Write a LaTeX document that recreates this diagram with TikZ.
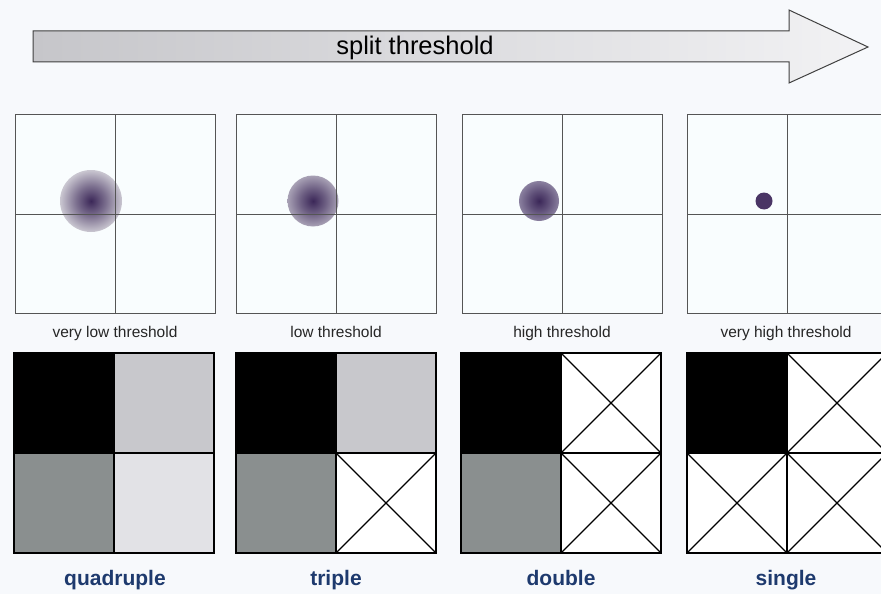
\documentclass[tikz,border=0pt]{standalone}
\usepackage{fontspec}
\setmainfont{Liberation Sans}
\definecolor{bg}{HTML}{F7F9FC}
\definecolor{panelbg}{HTML}{F9FDFE}
\definecolor{framec}{HTML}{555555}
\definecolor{lblue}{HTML}{1E3A6E}
\definecolor{blobin}{HTML}{3B2758}
\definecolor{blobouta}{HTML}{CAC7D1}
\definecolor{bloboutb}{HTML}{A8A1B5}
\definecolor{bloboutc}{HTML}{8A809F}
\colorlet{blobmida}{blobin!55!blobouta}
\colorlet{blobmidb}{blobin!55!bloboutb}
\colorlet{blobmidc}{blobin!55!bloboutc}
\definecolor{dotc}{HTML}{4A3565}
\definecolor{lgray}{HTML}{C8C8CC}
\definecolor{mgray}{HTML}{8A8F8F}
\definecolor{xgray}{HTML}{E2E2E6}
\definecolor{arrowL}{HTML}{C6C6CA}
\definecolor{arrowR}{HTML}{F2F2F4}
\pgfdeclareradialshading{bloba}{\pgfpoint{0bp}{0bp}}{color(0bp)=(blobin); color(12bp)=(blobmida); color(25bp)=(blobouta); color(50bp)=(blobouta)}
\pgfdeclareradialshading{blobb}{\pgfpoint{0bp}{0bp}}{color(0bp)=(blobin); color(12bp)=(blobmidb); color(25bp)=(bloboutb); color(50bp)=(bloboutb)}
\pgfdeclareradialshading{blobc}{\pgfpoint{0bp}{0bp}}{color(0bp)=(blobin); color(12bp)=(blobmidc); color(25bp)=(bloboutc); color(50bp)=(bloboutc)}
\tikzset{
  panelframe/.style={draw=framec, line width=0.9pt},
  gridline/.style={draw=framec, line width=0.9pt},
  cellframe/.style={draw=black, line width=1.4pt},
  xline/.style={draw=black, line width=1.3pt},
  toplabel/.style={font=\fontsize{15.5}{18}\selectfont, text=black!85, inner sep=0pt, anchor=base},
  botlabel/.style={font=\fontsize{21}{24}\selectfont\bfseries, text=lblue, inner sep=0pt, anchor=base},
}
\newcommand{\xcell}[2]{%
  \fill[white] (#1,#2) rectangle ++(100,100);
  \draw[xline] (#1,#2) -- ++(100,100) (#1+100,#2) -- ++(-100,100);
}
\begin{document}
\begin{tikzpicture}[x=1pt,y=-1pt]
\fill[bg] (0,0) rectangle (881,594);
\useasboundingbox (0,0) rectangle (881,594);
% arrow
\shade[left color=arrowL, right color=arrowR, draw=black!75, line width=1pt]
  (33,31) -- (789,31) -- (789,10) -- (868,47) -- (789,83) -- (789,62) -- (33,62) -- cycle;
\node[font=\fontsize{25.5}{28}\selectfont, inner sep=0pt, anchor=base] (title) at (415,55) {split threshold};
% top panels
\foreach \x/\sh/\cx/\r [count=\i] in {15/bloba/91/31, 236/blobb/313/25.5, 462/blobc/539/20} {
  \fill[panelbg] (\x,114) rectangle ++(200,199);
  \shade[shading=\sh] (\cx,201) circle[radius=\r];
  \draw[gridline] (\x+100,114) -- ++(0,199) (\x,214) -- ++(200,0);
  \draw[panelframe] (\x,114) rectangle ++(200,199);
}
\fill[panelbg] (687,114) rectangle ++(200,199);
\fill[dotc] (764,201) circle[radius=8.5];
\draw[gridline] (787,114) -- ++(0,199) (687,214) -- ++(200,0);
\draw[panelframe] (687,114) rectangle ++(200,199);
\node[toplabel] (t1) at (115,337) {very low threshold};
\node[toplabel] (t2) at (336,337) {low threshold};
\node[toplabel] (t3) at (562,337) {high threshold};
\node[toplabel] (t4) at (786,337) {very high threshold};
% bottom panels
% quadruple
\fill[black] (14,353) rectangle ++(100,100);
\fill[lgray] (114,353) rectangle ++(100,100);
\fill[mgray] (14,453) rectangle ++(100,100);
\fill[xgray] (114,453) rectangle ++(100,100);
\draw[cellframe] (14,353) rectangle ++(200,200) (114,353) -- ++(0,200) (14,453) -- ++(200,0);
% triple
\fill[black] (236,353) rectangle ++(100,100);
\fill[lgray] (336,353) rectangle ++(100,100);
\fill[mgray] (236,453) rectangle ++(100,100);
\xcell{336}{453}
\draw[cellframe] (236,353) rectangle ++(200,200) (336,353) -- ++(0,200) (236,453) -- ++(200,0);
% double
\fill[black] (461,353) rectangle ++(100,100);
\xcell{561}{353}
\fill[mgray] (461,453) rectangle ++(100,100);
\xcell{561}{453}
\draw[cellframe] (461,353) rectangle ++(200,200) (561,353) -- ++(0,200) (461,453) -- ++(200,0);
% single
\fill[black] (687,353) rectangle ++(100,100);
\xcell{787}{353}
\xcell{687}{453}
\xcell{787}{453}
\draw[cellframe] (687,353) rectangle ++(200,200) (787,353) -- ++(0,200) (687,453) -- ++(200,0);
\node[botlabel] (b1) at (115,585) {quadruple};
\node[botlabel] (b2) at (336,585) {triple};
\node[botlabel] (b3) at (561,585) {double};
\node[botlabel] (b4) at (786,585) {single};
\end{tikzpicture}
\end{document}
